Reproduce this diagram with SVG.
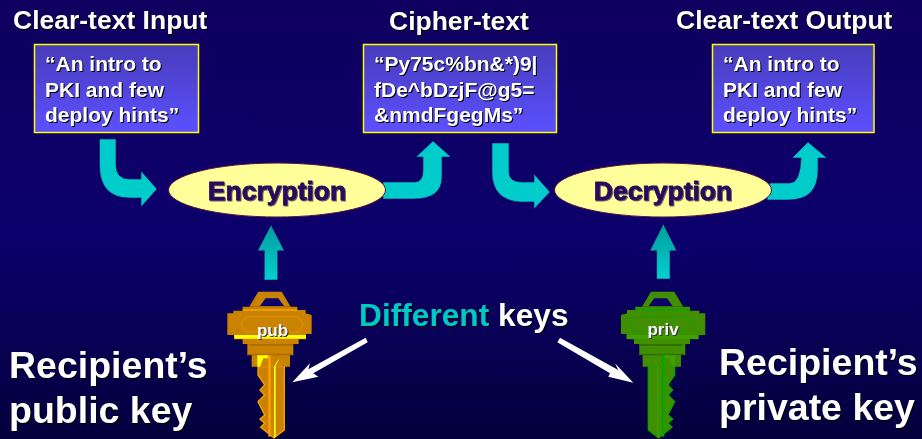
<svg xmlns="http://www.w3.org/2000/svg" xmlns:xlink="http://www.w3.org/1999/xlink" width="922" height="439" viewBox="0 0 922 439">
<style>
text{font-family:"Liberation Sans",Arial,sans-serif;font-weight:bold;fill:#fff;filter:drop-shadow(1.5px 1.5px 0.4px #000)}
.title{font-size:26.500px}
.box{fill:url(#boxGrad);stroke:#ffff00;stroke-width:1.5}
.boxt{font-size:21px}
.ell{fill:#ffff99;stroke:#5a1040;stroke-width:1}
.op{font-size:26.500px;fill:#2a0a5a;stroke:#2a0a5a;stroke-width:.8;filter:drop-shadow(1px 1px 0.3px #6a5a70);text-anchor:middle}
.big{font-size:37.500px}
.diff{font-size:31.700px}
.keyt{font-size:17px;text-anchor:middle;filter:drop-shadow(1px 1px 0.3px #333)}
.cy{fill:#00cccc;stroke:#200a60;stroke-width:.6}
.up{fill:url(#upGrad);stroke:#301060;stroke-width:.6}
.wh{fill:#fff}
.m{fill:var(--m)}.l{fill:var(--l)}.d{fill:var(--d)}.h{fill:var(--h)}
.o{fill:none;stroke:var(--l);stroke-width:1.5}
.b{fill:var(--m);stroke:var(--l);stroke-width:4}
#kPub{--m:#c98300;--l:#ffa000;--d:#a86e00;--h:#ffff00}
#kPriv{--m:#3f8f00;--l:#00a800;--d:#2f6f00;--h:#3fa000}
</style>
<defs>
<linearGradient id="bg" x1="0" y1="0" x2="0" y2="1"><stop offset="0" stop-color="#0f005f"/><stop offset=".55" stop-color="#0c006c"/><stop offset="1" stop-color="#04003c"/></linearGradient>
<linearGradient id="boxGrad" x1="0" y1="0" x2="0" y2="1"><stop offset="0" stop-color="#483cbc"/><stop offset="1" stop-color="#5c50ff"/></linearGradient>
<linearGradient id="upGrad" x1="0" y1="0" x2="0" y2="1"><stop offset="0" stop-color="#009c9c"/><stop offset="1" stop-color="#00d0d0"/></linearGradient>
<symbol id="key" overflow="visible">
<path class="m" d="M148 290 175 245H245L272 290Z"/>
<path d="M180 288 197 265H235L252 288Z" fill="#0c0068"/>
<path class="b" d="M174 470H253V660L222 684 182 652 194 640 180 628 194 615 174 575 194 555 180 540 194 525 174 495Z"/>
<path class="m" d="M82 310H100V302H128V290H292V300H317V310L335 315V372H318V388H296V402H280V435H270V470H155V435H142V402H128V388H102V375H82Z"/>
<path class="l" d="M128 298H292V302H128Z"/>
<path class="h" d="M103 375H318V386H103Z"/>
<path class="d" d="M150 402H278V407H150ZM142 431H280V436H142Z"/>
<path class="h" d="M172 436H205V445H190L180 470H172Z"/>
<path class="l" d="M205 436H212V680H205Z"/>
<path class="h" d="M222 470 236 446V450L227 468V680L222 684Z"/>
<path class="o" d="M123 344 138 320H295L310 344 295 366H138Z"/>
</symbol>
</defs>
<rect width="922" height="439" fill="url(#bg)"/>
<g id="connectors">
<path class="cy" d="M99.500 139H116V165Q116 179 130 179H141V171L157 189 141 207V198H130Q99.500 198 99.500 165Z"/>
<path class="cy" d="M383 182H415Q423 182 423 170V157H416L433 141 451 157H442V177Q442 199 413 199H383Z"/>
<path class="cy" d="M492 143H509V172Q509 182 522 182H534V174L550 192 534 209V202H520Q492 200 492 172Z"/>
<path class="cy" d="M770 183H790Q800 183 801 158H792L808 142 827 158H818V170Q818 200 788 200H767Z"/>
<path class="up" d="M271 225 284.300 250.700H277.700V280H264.300V250.700H257.700Z"/>
<path class="up" d="M663.300 224 676.700 250.700H670V279H656.700V250.700H650Z"/>
<path class="wh" d="M365.700 337.700 367.700 342.300 313.300 373.300 318.300 376.700 292.300 382.300 310 363.300 308.300 369.300Z"/>
<path class="wh" d="M560 337.700 557.300 342.300 610 373.300 608.300 376.700 633.300 382.700 615 363.300 618.300 370Z"/>
</g>
<g id="title-input"><text class="title" x="13" y="29">Clear-text Input</text></g>
<g id="title-cipher"><text class="title" x="389" y="30">Cipher-text</text></g>
<g id="title-output"><text class="title" x="676" y="29">Clear-text Output</text></g>
<g id="box-input"><rect class="box" x="34.500" y="44.500" width="164" height="88"/>
<text class="boxt" x="45" y="71">“An intro to</text><text class="boxt" x="45" y="97">PKI and few</text><text class="boxt" x="45" y="122">deploy hints”</text></g>
<g id="box-cipher"><rect class="box" x="363.500" y="44.500" width="193" height="88"/>
<text class="boxt" x="374" y="71">“Py75c%bn&amp;*)9|</text><text class="boxt" x="374" y="97">fDe^bDzjF@g5=</text><text class="boxt" x="374" y="122">&amp;nmdFgegMs”</text></g>
<g id="box-output"><rect class="box" x="712.500" y="44.500" width="161.500" height="88"/>
<text class="boxt" x="723" y="71">“An intro to</text><text class="boxt" x="723" y="97">PKI and few</text><text class="boxt" x="723" y="122">deploy hints”</text></g>
<g id="encryption"><ellipse class="ell" cx="277" cy="190" rx="108.500" ry="27"/><text class="op" x="277" y="200">Encryption</text></g>
<g id="decryption"><ellipse class="ell" cx="663" cy="190" rx="108.500" ry="27"/><text class="op" x="663" y="200">Decryption</text></g>
<g id="kPub"><use href="#key" transform="translate(200 210) scale(.3333)"/><text class="keyt" x="272.500" y="336">pub</text></g>
<g id="kPriv"><use href="#key" transform="translate(663.300 210) scale(-.3333 .3333) translate(-208 0)"/><text class="keyt" x="663" y="335">priv</text></g>
<g id="label-different"><text class="diff" x="359" y="326"><tspan style="fill:#00c8c8">Different</tspan> keys</text></g>
<g id="label-public"><text class="big" x="9" y="378">Recipient’s</text><text class="big" x="9" y="423">public key</text></g>
<g id="label-private"><text class="big" x="719" y="375">Recipient’s</text><text class="big" x="719" y="420">private key</text></g>
</svg>
